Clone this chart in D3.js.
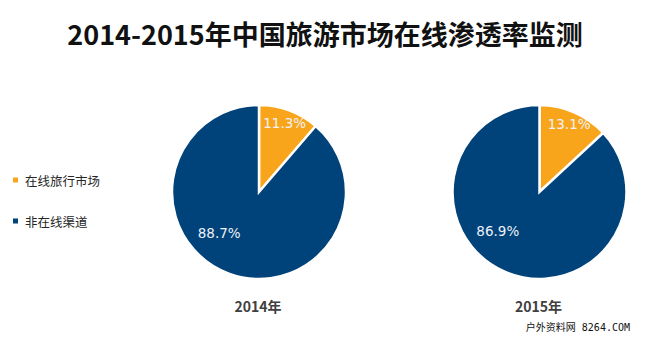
<!DOCTYPE html>
<html>
<head>
<meta charset="utf-8">
<script src="https://cdn.jsdelivr.net/npm/d3@7"></script>
<style>
  html, body { margin: 0; padding: 0; background: #fff; }
  svg { display: block; }
</style>
</head>
<body>
<svg id="chart" width="650" height="337"></svg>
<script>
// Chart data
const titleText = "2014-2015年中国旅游市场在线渗透率监测";
const categories = ["在线旅行市场", "非在线渠道"];
const years = ["2014年", "2015年"];
const onlineShare = [11.3, 13.1];
const offlineShare = [88.7, 86.9];
const colors = ["#F9A51B", "#00427A"];
const siteName = "户外资料网";
const siteUrl = " 8264.COM";

const svg = d3.select("#chart");
const W = 650, H = 337;
const cjk = "'Noto Sans CJK SC', 'Microsoft YaHei', sans-serif";

// Title
svg.append("text")
  .attr("x", W / 2)
  .attr("y", 45)
  .attr("text-anchor", "middle")
  .attr("font-family", cjk)
  .attr("font-weight", "bold")
  .attr("font-size", 27)
  .attr("fill", "#111")
  .text(titleText);

// Legend
const color = d3.scaleOrdinal().domain(categories).range(colors);
const legend = svg.append("g");
const legendY = d3.scalePoint().domain(categories).range([180, 221]);
categories.forEach(c => {
  legend.append("rect")
    .attr("x", 13).attr("y", legendY(c) - 2.5)
    .attr("width", 5).attr("height", 5)
    .attr("fill", color(c));
  legend.append("text")
    .attr("x", 25).attr("y", legendY(c))
    .attr("dominant-baseline", "central")
    .attr("font-family", cjk)
    .attr("font-size", 12.5)
    .attr("fill", "#262626")
    .text(c);
});

// Pies
const cx = d3.scalePoint().domain(years).range([259, 539.5]);
const cy = 192, R = 87;
const pie = d3.pie().sort(null).value(d => d.value);
const arc = d3.arc().innerRadius(0).outerRadius(R);

years.forEach((yr, i) => {
  const data = [
    { cat: categories[0], value: onlineShare[i] },
    { cat: categories[1], value: offlineShare[i] }
  ];
  const arcs = pie(data);
  const g = svg.append("g").attr("transform", `translate(${cx(yr)},${cy})`);
  g.selectAll("path").data(arcs).enter().append("path")
    .attr("d", arc)
    .attr("fill", d => color(d.data.cat))
    .attr("stroke", "#fff")
    .attr("stroke-width", 2.5)
    .attr("stroke-linejoin", "miter");

  // Value labels: small slice at its mid-angle, large slice in lower-left area
  arcs.forEach((a, k) => {
    let ang, rr;
    if (k === 0) { ang = (a.startAngle + a.endAngle) / 2; rr = 74; }
    else { ang = a.startAngle + (a.endAngle - a.startAngle) * 0.575; rr = 57; }
    g.append("text")
      .attr("x", rr * Math.sin(ang))
      .attr("y", -rr * Math.cos(ang))
      .attr("text-anchor", "middle")
      .attr("dominant-baseline", "central")
      .attr("font-family", "'DejaVu Sans', Verdana, sans-serif")
      .attr("font-size", 13.5)
      .attr("fill", "#EEF2F8")
      .text(d3.format(".1f")(a.data.value) + "%");
  });

  // Year label
  svg.append("text")
    .attr("x", cx(yr) - 1)
    .attr("y", 312)
    .attr("text-anchor", "middle")
    .attr("font-family", cjk)
    .attr("font-weight", "bold")
    .attr("font-size", 14)
    .attr("fill", "#404040")
    .text(yr);
});

// Site mark
const mark = svg.append("text")
  .attr("x", 630).attr("y", 331)
  .attr("text-anchor", "end")
  .attr("fill", "#111");
mark.append("tspan")
  .attr("font-family", cjk)
  .attr("font-size", 10)
  .text(siteName);
mark.append("tspan")
  .attr("font-family", "'DejaVu Sans Mono', 'Liberation Mono', monospace")
  .attr("font-size", 10)
  .attr("xml:space", "preserve")
  .style("white-space", "pre")
  .text(siteUrl);
</script>
</body>
</html>
